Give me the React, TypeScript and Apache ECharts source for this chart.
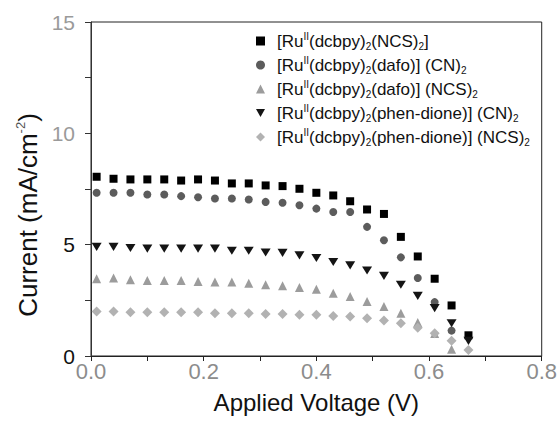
import React, { useEffect, useRef } from "react";
import * as echarts from "echarts";

const FONT = "'Liberation Sans', Arial, Helvetica, sans-serif";

const voltage = [0.01, 0.04, 0.07, 0.10, 0.13, 0.16, 0.19, 0.22, 0.25, 0.28, 0.31, 0.34, 0.37, 0.40, 0.43, 0.46, 0.49, 0.52, 0.55, 0.58, 0.61, 0.64, 0.67];

const seriesNames = [
  "[Ru(II)(dcbpy)2(NCS)2]",
  "[Ru(II)(dcbpy)2(dafo)] (CN)2",
  "[Ru(II)(dcbpy)2(dafo)] (NCS)2",
  "[Ru(II)(dcbpy)2(phen-dione)] (CN)2",
  "[Ru(II)(dcbpy)2(phen-dione)] (NCS)2",
];

const legendRichLabels = [
  "{p|[Ru}{sup|II}{t|(dcbpy)}{sub|2}{t|(NCS)}{sub|2}{t|]}",
  "{p|[Ru}{sup|II}{t|(dcbpy)}{sub|2}{t|(dafo)] (CN)}{sub|2}",
  "{p|[Ru}{sup|II}{t|(dcbpy)}{sub|2}{t|(dafo)] (NCS)}{sub|2}",
  "{p|[Ru}{sup|II}{t|(dcbpy)}{sub|2}{t|(phen-dione)] (CN)}{sub|2}",
  "{p|[Ru}{sup|II}{t|(dcbpy)}{sub|2}{t|(phen-dione)] (NCS)}{sub|2}",
];

const currentNCS = [8.05, 7.96, 7.93, 7.93, 7.93, 7.88, 7.93, 7.88, 7.75, 7.75, 7.66, 7.63, 7.51, 7.33, 7.21, 6.95, 6.58, 6.38, 5.35, 4.47, 3.47, 2.27, 0.93];
const currentDafoCN = [7.33, 7.33, 7.33, 7.25, 7.25, 7.18, 7.13, 7.07, 7.07, 7.03, 6.92, 6.88, 6.77, 6.62, 6.47, 6.47, 5.80, 5.20, 4.43, 3.50, 2.42, 1.14];
const currentDafoNCS = [3.47, 3.50, 3.42, 3.39, 3.39, 3.39, 3.35, 3.32, 3.32, 3.27, 3.20, 3.15, 3.08, 3.00, 2.82, 2.67, 2.45, 2.22, 1.92, 1.50, 1.01, 0.30];
const currentPhenCN = [4.90, 4.90, 4.85, 4.82, 4.82, 4.82, 4.82, 4.82, 4.73, 4.73, 4.65, 4.63, 4.52, 4.40, 4.22, 4.07, 3.84, 3.60, 3.20, 2.70, 2.15, 1.47, 0.68];
const currentPhenNCS = [2.00, 2.00, 1.97, 1.97, 1.97, 1.97, 1.97, 1.92, 1.92, 1.92, 1.89, 1.89, 1.85, 1.85, 1.80, 1.77, 1.70, 1.59, 1.47, 1.27, 1.02, 0.68, 0.27];

const xTicks = { min: 0, max: 0.8, interval: 0.2 };
const yTicks = { min: 0, max: 15, interval: 5 };

const pair = (ys: number[]) => ys.map((y, i) => [voltage[i], y]);

export default function App() {
  const ref = useRef<HTMLDivElement>(null);
  useEffect(() => {
    document.body.style.margin = "0";
    const chart = echarts.init(ref.current!, undefined, { renderer: "svg" });
    const styles = [
      { symbol: "rect", size: 8 as any, color: "#000000" },
      { symbol: "circle", size: 8 as any, color: "#5c5c5c" },
      { symbol: "triangle", size: 9 as any, color: "#9c9c9c" },
      { symbol: "path://M0,0L10,0L5,9Z", size: [10, 9] as any, color: "#141414" },
      { symbol: "diamond", size: 10 as any, color: "#b2b2b2" },
    ];
    const datas = [currentNCS, currentDafoCN, currentDafoNCS, currentPhenCN, currentPhenNCS];
    const labelMap: Record<string, string> = {};
    seriesNames.forEach((n, i) => (labelMap[n] = legendRichLabels[i]));

    chart.setOption({
      animation: false,
      backgroundColor: "#ffffff",
      textStyle: { fontFamily: FONT },
      grid: {
        left: 91,
        right: 16,
        top: 22,
        bottom: 70,
        show: true,
        borderColor: "#222",
        borderWidth: 1,
        backgroundColor: "transparent",
      },
      legend: {
        orient: "vertical",
        left: 251,
        top: 26,
        itemWidth: 9,
        itemHeight: 9,
        itemGap: 4,
        data: seriesNames,
        formatter: (name: string) => labelMap[name],
        textStyle: {
          fontFamily: FONT,
          color: "#111",
          rich: {
            p: { fontSize: 17, lineHeight: 20, color: "#111", fontFamily: FONT, padding: [0, 0, 0, 7] },
            t: { fontSize: 17, lineHeight: 20, color: "#111", fontFamily: FONT },
            sup: { fontSize: 10, lineHeight: 10, verticalAlign: "top", color: "#111", fontFamily: FONT },
            sub: { fontSize: 10, lineHeight: 8, verticalAlign: "bottom", color: "#111", fontFamily: FONT },
          },
        },
      },
      xAxis: {
        type: "value",
        min: xTicks.min,
        max: xTicks.max,
        interval: xTicks.interval,
        name: "Applied Voltage (V)",
        nameLocation: "middle",
        nameGap: 34,
        nameTextStyle: { fontSize: 24, color: "#111", fontFamily: FONT },
        axisLine: { show: true, lineStyle: { color: "#222", width: 1 } },
        axisTick: { show: true, inside: false, length: 5, lineStyle: { color: "#222" } },
        minorTick: { show: true, splitNumber: 2, length: 5, lineStyle: { color: "#222" } },
        splitLine: { show: false },
        axisLabel: {
          margin: 4,
          fontSize: 22,
          color: "#8c8c8c",
          fontFamily: FONT,
          formatter: (v: number) => v.toFixed(1),
        },
      },
      yAxis: {
        type: "value",
        min: yTicks.min,
        max: yTicks.max,
        interval: yTicks.interval,
        axisLine: { show: true, lineStyle: { color: "#333", width: 1 } },
        axisTick: { show: true, inside: false, length: 6, lineStyle: { color: "#333" } },
        minorTick: { show: true, splitNumber: 2, length: 6, lineStyle: { color: "#333" } },
        splitLine: { show: false },
        axisLabel: {
          margin: 16,
          fontSize: 21,
          fontFamily: FONT,
          color: (v: any) => (Number(v) >= 10 ? "#9a9a9a" : "#111"),
        },
      },
      graphic: [
        {
          type: "text",
          x: 28,
          y: 215,
          rotation: Math.PI / 2,
          style: {
            text: "{a|Current (mA/cm}{s|-2}{a|)}",
            align: "center",
            verticalAlign: "middle",
            rich: {
              a: { fontSize: 26, lineHeight: 28, fill: "#111", fontFamily: FONT },
              s: { fontSize: 13, lineHeight: 12, verticalAlign: "top", fill: "#555", fontFamily: FONT },
            },
          },
        },
      ],
      series: seriesNames.map((name, i) => ({
        name,
        type: "scatter",
        symbol: styles[i].symbol,
        symbolSize: styles[i].size,
        symbolKeepAspect: true,
        itemStyle: { color: styles[i].color, opacity: 1 },
        data: pair(datas[i]),
        z: 2 + i,
      })),
    });
    return () => chart.dispose();
  }, []);
  return <div ref={ref} style={{ width: 560, height: 426 }} />;
}
